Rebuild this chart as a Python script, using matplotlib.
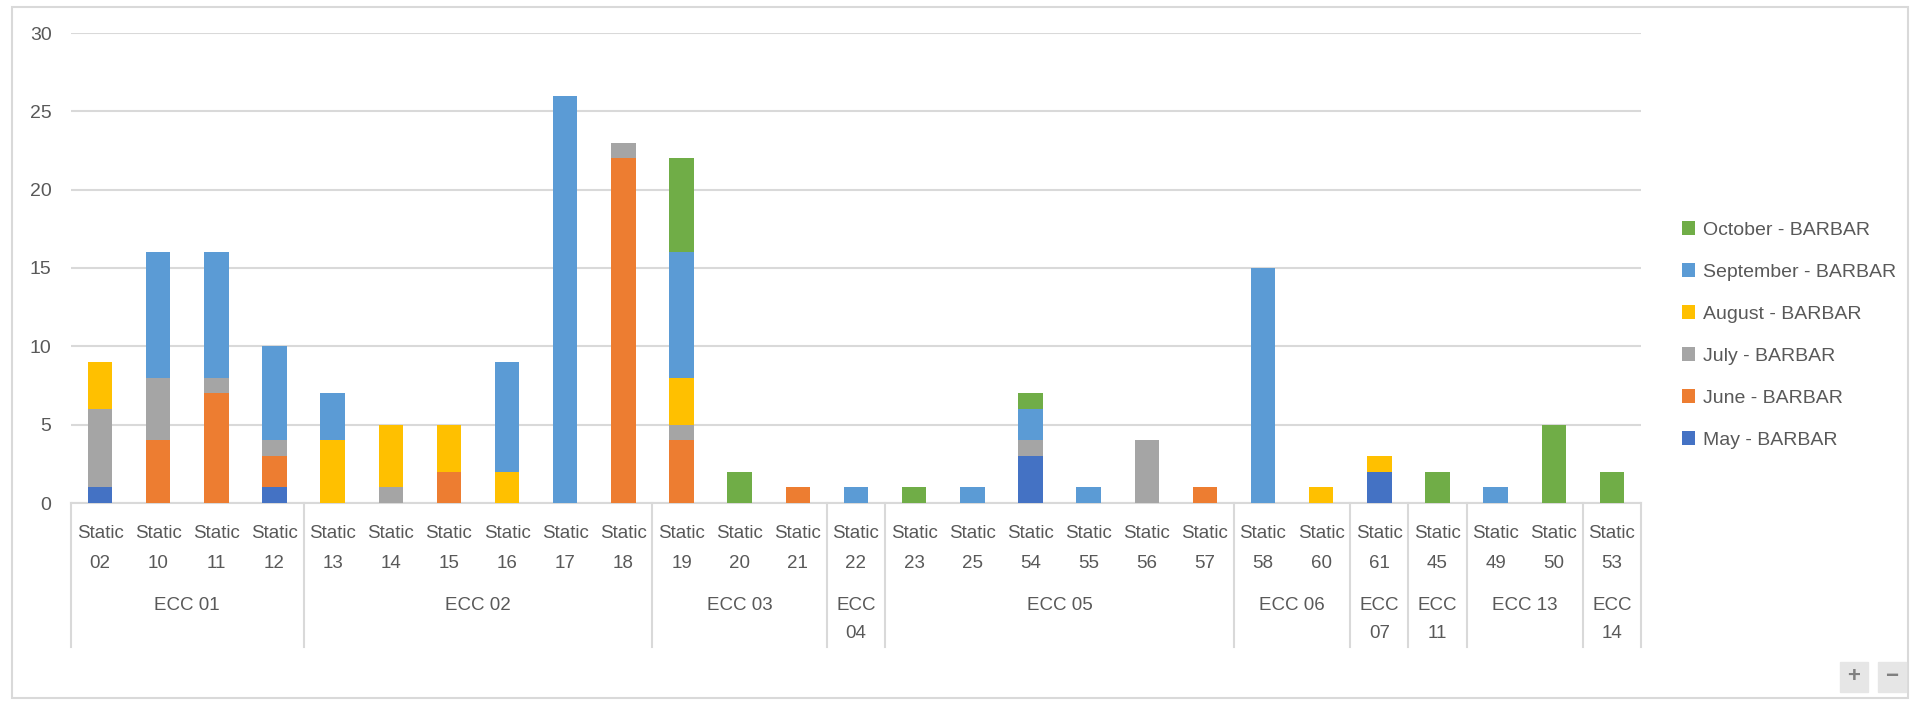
import numpy as np
import matplotlib.pyplot as plt
from matplotlib.patches import Patch, Rectangle

plt.rcParams["font.family"] = ["Liberation Sans", "DejaVu Sans"]

stations = ["02", "10", "11", "12", "13", "14", "15", "16", "17", "18",
            "19", "20", "21", "22", "23", "25", "54", "55", "56", "57",
            "58", "60", "61", "45", "49", "50", "53"]
groups = ["ECC 01", "ECC 02", "ECC 03", "ECC\n04", "ECC 05", "ECC 06",
          "ECC\n07", "ECC\n11", "ECC 13", "ECC\n14"]
group_sizes = [4, 6, 3, 1, 6, 2, 1, 1, 2, 1]

may = [1, 0, 0, 1, 0, 0, 0, 0, 0, 0, 0, 0, 0, 0, 0, 0, 3, 0, 0, 0, 0, 0, 2, 0, 0, 0, 0]
june = [0, 4, 7, 2, 0, 0, 2, 0, 0, 22, 4, 0, 1, 0, 0, 0, 0, 0, 0, 1, 0, 0, 0, 0, 0, 0, 0]
july = [5, 4, 1, 1, 0, 1, 0, 0, 0, 1, 1, 0, 0, 0, 0, 0, 1, 0, 4, 0, 0, 0, 0, 0, 0, 0, 0]
august = [3, 0, 0, 0, 4, 4, 3, 2, 0, 0, 3, 0, 0, 0, 0, 0, 0, 0, 0, 0, 0, 1, 1, 0, 0, 0, 0]
september = [0, 8, 8, 6, 3, 0, 0, 7, 26, 0, 8, 0, 0, 1, 0, 1, 2, 1, 0, 0, 15, 0, 0, 0, 1, 0, 0]
october = [0, 0, 0, 0, 0, 0, 0, 0, 0, 0, 6, 2, 0, 0, 1, 0, 1, 0, 0, 0, 0, 0, 0, 2, 0, 5, 2]

series = [("May - BARBAR", may, "#4472C4"),
          ("June - BARBAR", june, "#ED7D31"),
          ("July - BARBAR", july, "#A5A5A5"),
          ("August - BARBAR", august, "#FFC000"),
          ("September - BARBAR", september, "#5B9BD5"),
          ("October - BARBAR", october, "#70AD47")]

W, H = 1920, 705
fig = plt.figure(figsize=(W / 100, H / 100), dpi=100)

# plot area in pixels: x 71..1641, y 33 (top) .. 503 (zero line)
x0, x1, ytop, ybot = 71, 1641, 33, 503
ax = fig.add_axes([x0 / W, 1 - ybot / H, (x1 - x0) / W, (ybot - ytop) / H])

# outer chart border
fig.patches.append(Rectangle((12 / W, 7 / H), (1908 - 12) / W, (698 - 7) / H,
                             transform=fig.transFigure, fill=False,
                             edgecolor="#D9D9D9", lw=1.5))

x = np.arange(len(stations))
bottom = np.zeros(len(stations))
for name, vals, col in series:
    vals = np.array(vals, dtype=float)
    ax.bar(x, vals, 0.42, bottom=bottom, color=col, zorder=3)
    bottom += vals

ax.set_xlim(-0.5, len(stations) - 0.5)
ax.set_ylim(0, 30)
ax.set_yticks(np.arange(0, 31, 5))
ax.grid(axis="y", color="#D9D9D9", lw=1.5, zorder=0)
for s in ["top", "right", "left"]:
    ax.spines[s].set_visible(False)
ax.spines["bottom"].set_color("#D9D9D9")
ax.spines["bottom"].set_linewidth(1.5)
ax.tick_params(axis="y", length=0, labelsize=14, labelcolor="#595959", pad=14)
ax.set_xticks([])

# multi-level category axis
ph = ybot - ytop
def ay(py):
    return (ybot - py) / ph

tr = ax.get_xaxis_transform()
txt = dict(color="#595959", fontsize=13.5, ha="center", va="center",
           transform=tr, clip_on=False)
for i, st in enumerate(stations):
    ax.text(i, ay(534), "Static", **txt)
    ax.text(i, ay(563), st, **txt)

edges = np.concatenate([[0], np.cumsum(group_sizes)]) - 0.5
for k, g in enumerate(groups):
    c = (edges[k] + edges[k + 1]) / 2
    if "\n" in g:
        a, b = g.split("\n")
        ax.text(c, ay(605), a, **txt)
        ax.text(c, ay(633), b, **txt)
    else:
        ax.text(c, ay(605), g, **txt)
for e in edges:
    ax.plot([e, e], [0, ay(647)], color="#D9D9D9", lw=1.5,
            transform=tr, clip_on=False)

handles = [Patch(facecolor=col, label=name) for name, _, col in series][::-1]
fig.legend(handles=handles, loc="upper left", bbox_to_anchor=(1664 / W, 1 - 204 / H),
           frameon=False, fontsize=14, labelcolor="#595959",
           handlelength=0.7, handleheight=0.7, handletextpad=0.4,
           labelspacing=1.25)

# zoom buttons at bottom right
for bx, s in [(1840, "+"), (1878, "\u2212")]:
    fig.patches.append(Rectangle((bx / W, (H - 692) / H), 28 / W, 30 / H,
                                 transform=fig.transFigure, color="#E6E6E6"))
    fig.text((bx + 14) / W, (H - 677) / H, s, ha="center", va="center",
             fontsize=16, fontweight="bold", color="#808080")

fig.savefig("out.png", dpi=100)
